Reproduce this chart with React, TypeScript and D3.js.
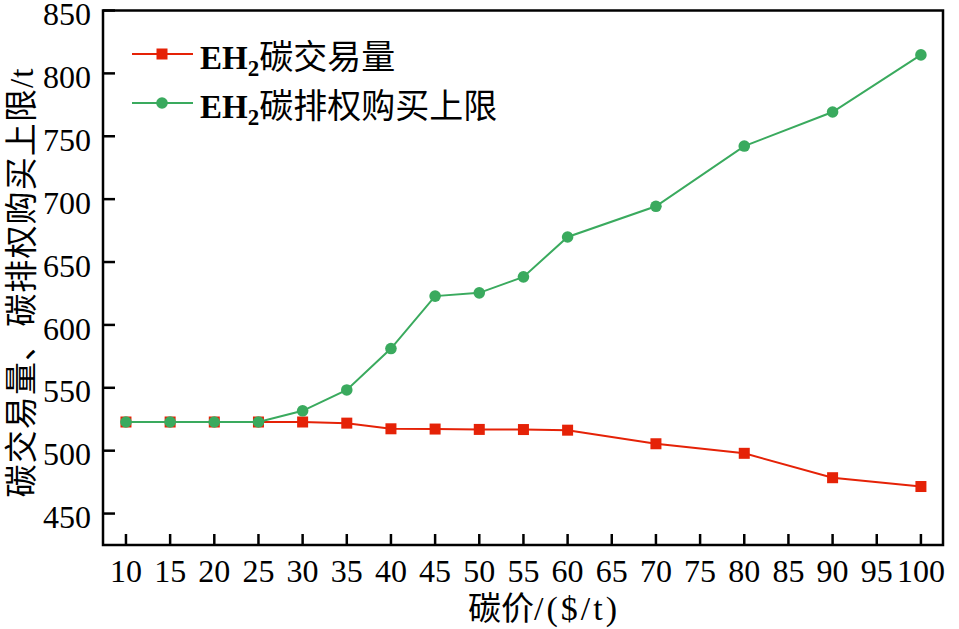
import React from "react";
import * as d3 from "d3";

const prices = [10, 15, 20, 25, 30, 35, 40, 45, 50, 55, 60, 70, 80, 90, 100];
const tradeVolume = [522.8, 522.8, 522.8, 522.8, 522.8, 521.9, 517.4, 517.2, 516.9, 516.8, 516.3, 505.5, 497.9, 478.5, 471.5];
const purchaseCap = [522.8, 522.8, 522.8, 522.8, 531.7, 548.3, 581.2, 622.9, 625.5, 638.2, 669.9, 694.3, 742.2, 769.3, 814.7];
const xTicks = d3.range(10, 101, 5);
const yTicks = [450, 500, 550, 600, 650, 700, 750, 800, 850];
const legendLabels = ["碳交易量", "碳排权购买上限"];
const xTitleCjk = "碳价";
const xTitleUnit = "/($/t)";
const yTitle = "碳交易量、碳排权购买上限/t";

const W = 959, H = 629;
const L = 103, R = 943, T = 10.5, B = 545;
const RED = "#e52207";
const GREEN = "#3aaa5e";
const FONT = "'Liberation Serif', 'Times New Roman', 'Noto Sans CJK SC', serif";

export default function App() {
  const x = d3.scaleLinear().domain([7.4, 102.5]).range([L, R]);
  const y = d3.scaleLinear().domain([425, 850]).range([B, T]);
  const line = d3.line<number>().x((_, i) => x(prices[i])).y((d) => y(d));
  const sq = 11;
  return (
    <svg width={W} height={H} style={{ position: "absolute", left: 0, top: 0, background: "#fff" }} fontFamily={FONT}>
      {/* series */}
      <path d={line(tradeVolume) || ""} fill="none" stroke={RED} strokeWidth={2} />
      {tradeVolume.map((v, i) => (
        <rect key={"r" + i} x={x(prices[i]) - sq / 2} y={y(v) - sq / 2} width={sq} height={sq} fill={RED} />
      ))}
      <path d={line(purchaseCap) || ""} fill="none" stroke={GREEN} strokeWidth={2} />
      {purchaseCap.map((v, i) => (
        <circle key={"g" + i} cx={x(prices[i])} cy={y(v)} r={5.8} fill={GREEN} />
      ))}
      {/* frame */}
      <rect x={L} y={T} width={R - L} height={B - T} fill="none" stroke="#000" strokeWidth={2.5} />
      {/* y ticks */}
      {yTicks.map((t) => (
        <g key={"y" + t}>
          <line x1={L} x2={L + 12} y1={y(t)} y2={y(t)} stroke="#000" strokeWidth={2.5} />
          <text x={L - 12} y={y(t) + 3.5} dy="0.35em" textAnchor="end" fontSize={32}>{t}</text>
        </g>
      ))}
      {/* x ticks */}
      {xTicks.map((t) => (
        <g key={"x" + t}>
          <line x1={x(t)} x2={x(t)} y1={B} y2={B - 11} stroke="#000" strokeWidth={2.5} />
          <text x={x(t)} y={582} textAnchor="middle" fontSize={32}>{t}</text>
        </g>
      ))}
      {/* axis titles */}
      <text x={544} y={620} textAnchor="middle" fontSize={33}>
        <tspan>{xTitleCjk}</tspan>
        <tspan fontSize={34} letterSpacing={3}>{xTitleUnit}</tspan>
      </text>
      <text transform={`translate(33,283) rotate(-90)`} textAnchor="middle" fontSize={33} textLength={429} lengthAdjust="spacing">{yTitle}</text>
      {/* legend */}
      {legendLabels.map((lab, i) => {
        const ly = 54 + i * 49;
        const c = i === 0 ? RED : GREEN;
        return (
          <g key={"l" + i}>
            <line x1={132} x2={193} y1={ly} y2={ly} stroke={c} strokeWidth={2} />
            {i === 0 ? (
              <rect x={162 - sq / 2} y={ly - sq / 2} width={sq} height={sq} fill={c} />
            ) : (
              <circle cx={162} cy={ly} r={5.8} fill={c} />
            )}
            <text x={200} y={ly + 15} fontSize={33}>
              <tspan fontWeight="bold">EH</tspan>
              <tspan fontWeight="bold" fontSize={23} dy={7}>2</tspan>
              <tspan dy={-7} fontSize={34}>{lab}</tspan>
            </text>
          </g>
        );
      })}
    </svg>
  );
}
